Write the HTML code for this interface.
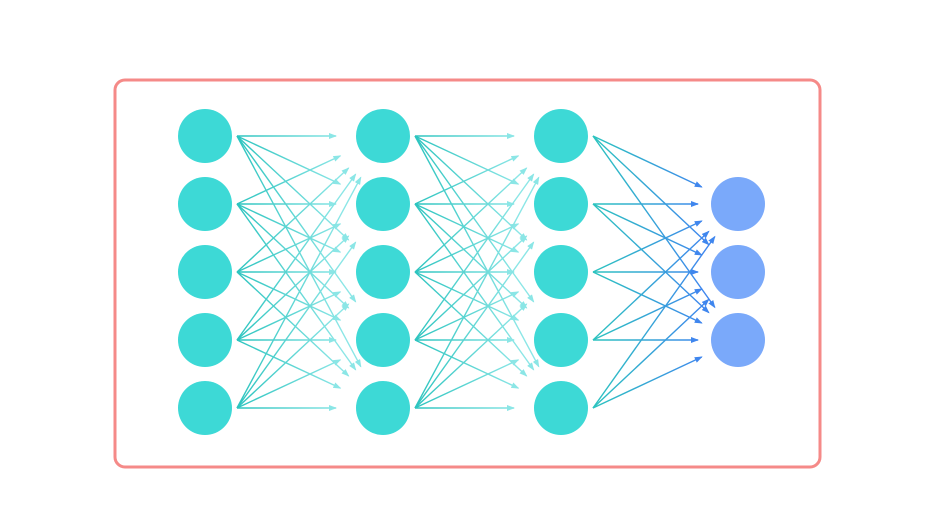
<!DOCTYPE html>
<html><head><meta charset="utf-8"><style>
html,body{margin:0;padding:0;background:#fff;width:950px;height:531px;overflow:hidden}
</style></head><body>
<svg id="s" width="950" height="531" xmlns="http://www.w3.org/2000/svg">
<defs>
<linearGradient id="g1" gradientUnits="userSpaceOnUse" x1="237" y1="0" x2="340" y2="0"><stop offset="0" stop-color="#2cc4bf"/><stop offset="1" stop-color="#8be6e6"/></linearGradient>
<linearGradient id="g2" gradientUnits="userSpaceOnUse" x1="415" y1="0" x2="518" y2="0"><stop offset="0" stop-color="#2cc4bf"/><stop offset="1" stop-color="#8be6e6"/></linearGradient>
<linearGradient id="g3" gradientUnits="userSpaceOnUse" x1="593" y1="0" x2="705" y2="0"><stop offset="0" stop-color="#2cc4bf"/><stop offset="1" stop-color="#3f86ee"/></linearGradient>
<marker id="m1" markerWidth="8" markerHeight="6" refX="7" refY="3" orient="auto" markerUnits="userSpaceOnUse"><path d="M0,0L8,3L0,6z" fill="#8be6e6"/></marker>
<marker id="m3" markerWidth="8" markerHeight="6" refX="7" refY="3" orient="auto" markerUnits="userSpaceOnUse"><path d="M0,0L8,3L0,6z" fill="#3f86ee"/></marker>
</defs>
<rect x="115" y="80" width="705" height="387" rx="10" fill="none" stroke="#f58a88" stroke-width="3"/>
<g id="e"></g><g id="n"></g>
</svg>
<script>
var ns="http://www.w3.org/2000/svg",e=document.getElementById("e"),n=document.getElementById("n");
var ys=[136,204,272,340,408],xs=[205,383,561];
function el(t,a,p){var k=document.createElementNS(ns,t);for(var i in a)k.setAttribute(i,a[i]);p.appendChild(k);}
for(var L=0;L<3;L++){
 var sx=xs[L]+32,tx=L<2?xs[L+1]:738,tys=L<2?ys:[204,272,340],stop=L<2?47:40;
 ys.forEach(function(sy){tys.forEach(function(ty){
  var dx=tx-sx,dy=ty-sy,d=Math.sqrt(dx*dx+dy*dy),f=(d-stop)/d;
  el("line",{x1:sx,y1:sy,x2:sx+dx*f,y2:sy+dy*f,stroke:"url(#g"+(L+1)+")","stroke-width":1.4,"marker-end":L<2?"url(#m1)":"url(#m3)"},e);
 });});
}
xs.forEach(function(x){ys.forEach(function(y){el("circle",{cx:x,cy:y,r:27,fill:"#3dd9d6"},n);});});
[204,272,340].forEach(function(y){el("circle",{cx:738,cy:y,r:27,fill:"#7aa9fa"},n);});
</script>
</body></html>
